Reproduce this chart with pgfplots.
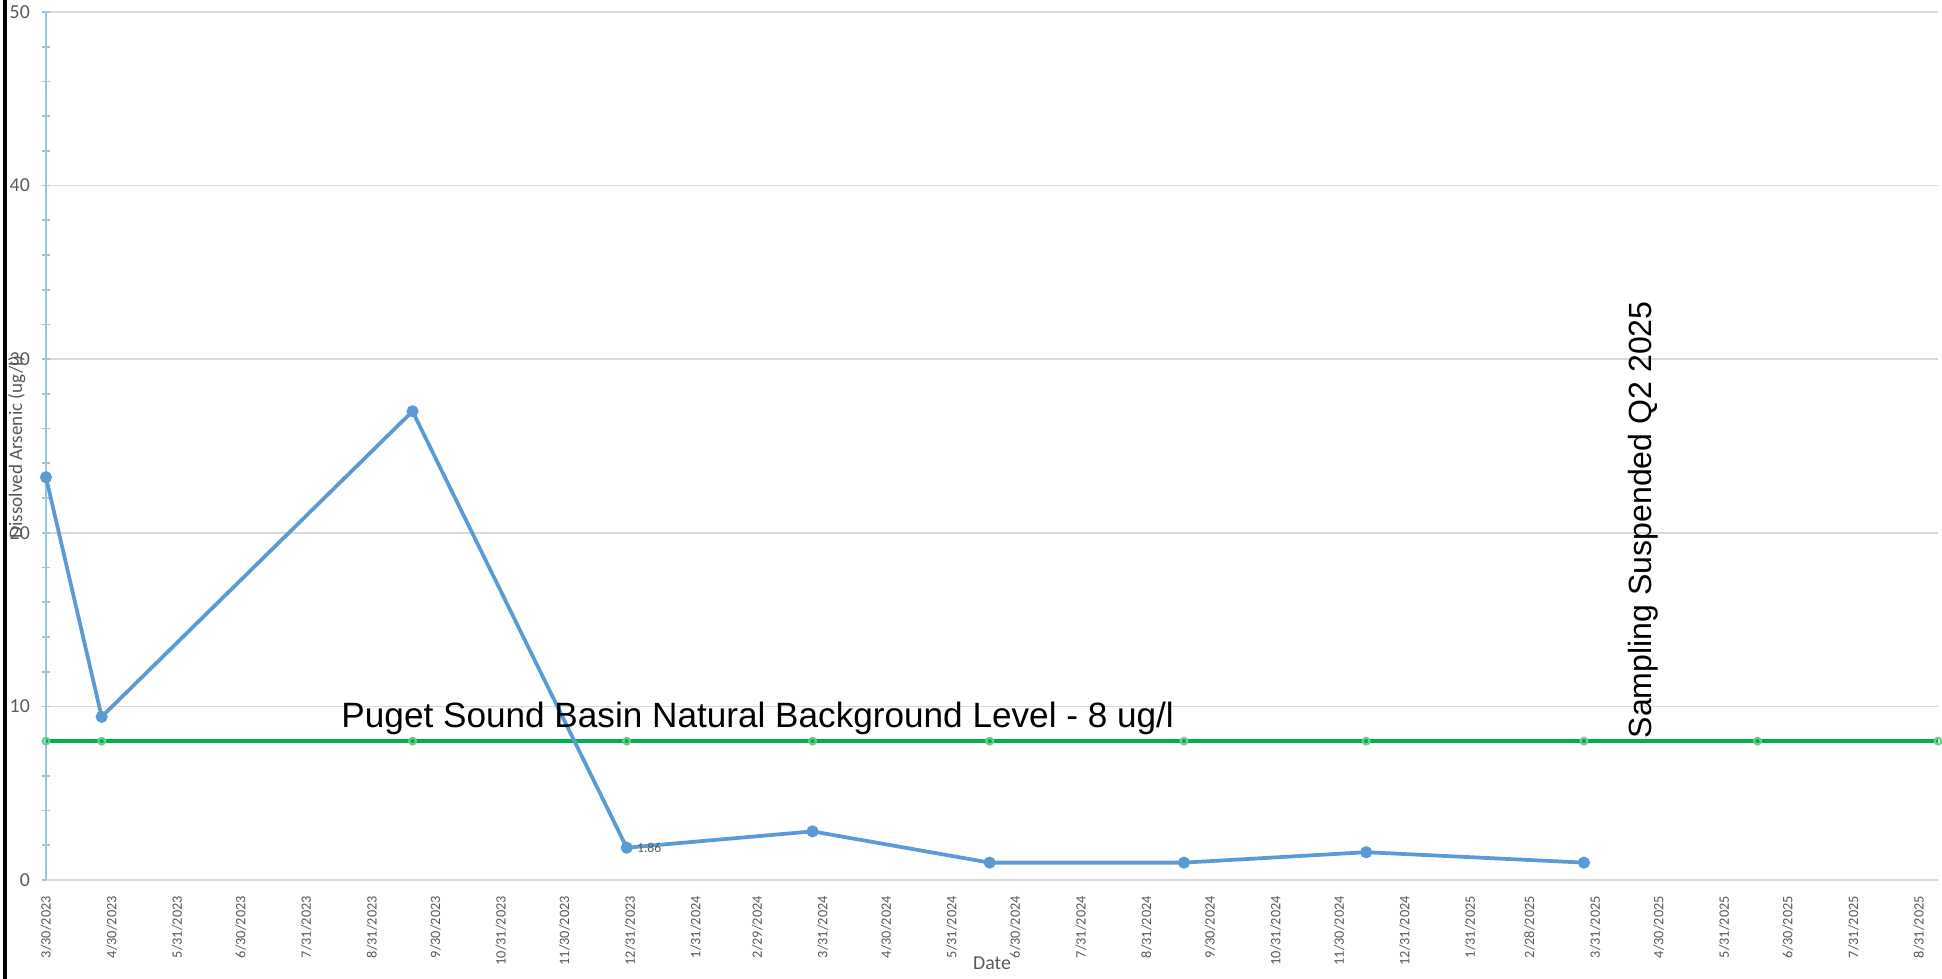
\documentclass[border=0pt]{standalone}
\usepackage{fontspec}
\setmainfont{Carlito}
\newfontfamily\arial{Liberation Sans}
\usepackage{pgfplots}
\pgfplotsset{compat=1.18}
\definecolor{serblue}{HTML}{5B9BD5}
\definecolor{sergreen}{HTML}{00B050}
\definecolor{mkgreen}{HTML}{70CC8C}
\definecolor{gridgray}{HTML}{D9D9D9}
\definecolor{axblue}{HTML}{9DC3E6}
\definecolor{txtgray}{HTML}{595959}

% x values are days after 3/30/2023
\begin{document}
\begin{tikzpicture}
\begin{axis}[
  scale only axis, width=19.485cm, height=8.939cm,
  xmin=0, xmax=894, ymin=0, ymax=50,
  axis x line=bottom, axis y line=left,
  x axis line style={draw=gridgray, -},
  y axis line style={draw=axblue, -},
  ytick={0,10,...,50}, minor y tick num=4,
  tick align=center, major tick length=0.085cm, minor tick length=0.085cm,
  ytick style={draw=axblue, line width=0.5pt},
  xtick={0,31,62,92,123,154,184,215,245,276,307,336,367,397,428,458,489,520,550,581,611,642,673,701,732,762,793,823,854,885},
  xticklabels={3/30/2023,4/30/2023,5/31/2023,6/30/2023,7/31/2023,8/31/2023,9/30/2023,10/31/2023,11/30/2023,12/31/2023,1/31/2024,2/29/2024,3/31/2024,4/30/2024,5/31/2024,6/30/2024,7/31/2024,8/31/2024,9/30/2024,10/31/2024,11/30/2024,12/31/2024,1/31/2025,2/28/2025,3/31/2025,4/30/2025,5/31/2025,6/30/2025,7/31/2025,8/31/2025},
  xtick style={draw=none},
  ymajorgrids, grid style={gridgray, line width=0.5pt},
  /pgf/number format/assume math mode=true,
  yticklabel style={font=\fontsize{5.8}{7}\selectfont, text=txtgray},
  xticklabel style={rotate=90, anchor=east, font=\fontsize{4.2}{5}\selectfont, text=txtgray},
  xlabel={Date},
  xlabel style={font=\fontsize{5.8}{7}\selectfont, text=txtgray, at={(axis description cs:0.5,-0.0957)}, anchor=center},
  clip=false,
]
\addplot[sergreen, line width=1.3pt, mark=o, mark size=1.0pt,
  mark options={draw=mkgreen, line width=0.6pt}] coordinates {
  (0,8) (26.3,8) (173.2,8) (274.4,8) (362.2,8) (445.9,8) (537.7,8) (623.8,8) (726.7,8) (808.7,8) (894,8)
};
\addplot[serblue, line width=1.1pt, mark=*, mark size=1.2pt] coordinates {
  (0,23.2) (26.3,9.4) (173.2,27.0) (274.4,1.86) (362.2,2.8) (445.9,1.0) (537.7,1.0) (623.8,1.6) (726.7,1.0)
};
\node[anchor=west, inner sep=0, font=\fontsize{4}{5}\selectfont, text=txtgray, xshift=0.1cm] at (axis cs:274.4,1.86) {1.86};
\node[anchor=west, inner sep=0, font=\arial\fontsize{10.3}{12}\selectfont] at (axis cs:139.3,9.3) {Puget Sound Basin Natural Background Level - 8 ug/l};
\node[rotate=90, inner sep=0, font=\arial\fontsize{9.4}{11}\selectfont] at (axis cs:754.8,20.75) {Sampling Suspended Q2 2025};
\node[rotate=90, inner sep=0, font=\fontsize{5.6}{6}\selectfont, text=txtgray, yshift=0.30cm] at (rel axis cs:0,0.4986) {Dissolved Arsenic (ug/l)};
\draw[black, line width=1.2pt] (rel axis cs:-0.02167,-0.11406) -- (rel axis cs:-0.02167,1.01382);
\coordinate (bl) at (rel axis cs:-0.02431,-0.11406);
\coordinate (tr) at (rel axis cs:1.00211,1.01382);
\end{axis}
\pgfresetboundingbox
\path[use as bounding box] (bl) rectangle (tr);
\end{tikzpicture}
\end{document}
